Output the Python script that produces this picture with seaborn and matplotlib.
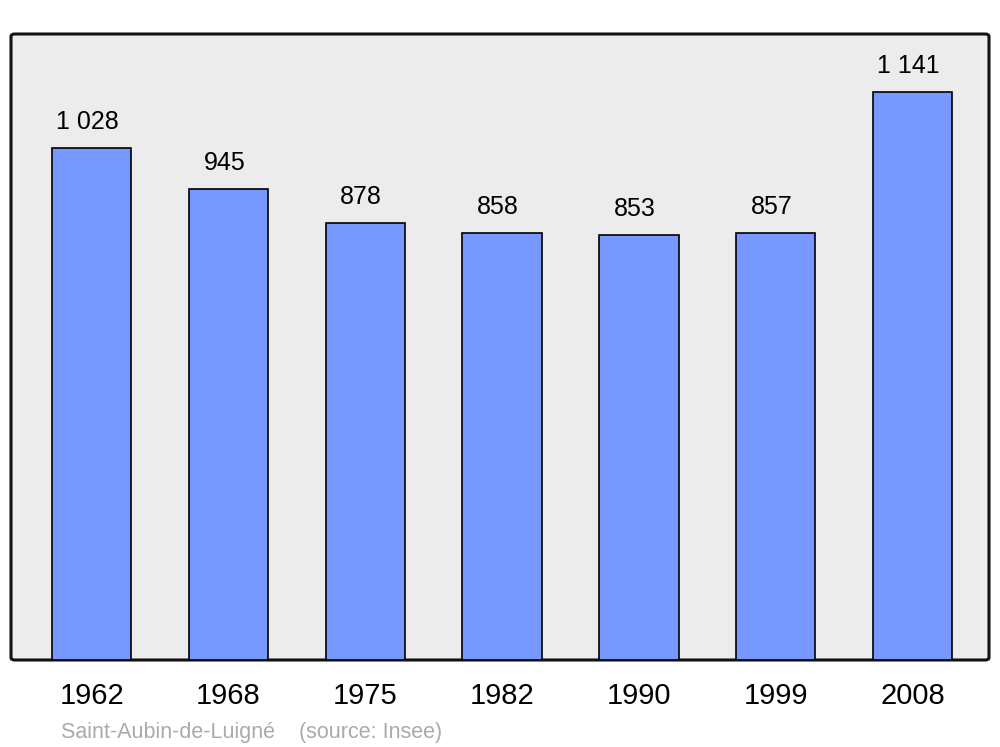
import matplotlib
matplotlib.use("Agg")
import matplotlib.pyplot as plt
import seaborn as sns
import pandas as pd
from matplotlib.patches import FancyBboxPatch

years = ["1962", "1968", "1975", "1982", "1990", "1999", "2008"]
population = [1028, 945, 878, 858, 853, 857, 1141]
value_labels = ["1 028", "945", "878", "858", "853", "857", "1 141"]
footer = "Saint-Aubin-de-Luigné    (source: Insee)"

sns.set_theme(style="white")
plt.rcParams["font.family"] = ["Liberation Sans", "DejaVu Sans"]

df = pd.DataFrame({"year": years, "pop": population})

fig = plt.figure(figsize=(10, 7.47), dpi=100)
ax = fig.add_axes([0.011, 1 - 660 / 747, 0.978, 626 / 747])
ax.set_facecolor("none")

bg = FancyBboxPatch((0, 0), 1, 1, boxstyle="round,pad=0,rounding_size=0.004",
                    transform=ax.transAxes, facecolor="#ececec", edgecolor="#111111",
                    linewidth=2.2, zorder=0, clip_on=False)
ax.add_patch(bg)

sns.barplot(data=df, x="year", y="pop", order=years, color="#7799ff", saturation=1,
            width=0.58, edgecolor="black", linewidth=1.2, ax=ax, zorder=2)

ax.set_xlim(-0.59, 6.56)
ax.set_ylim(0, 1257)
for s in ax.spines.values():
    s.set_visible(False)
ax.set_yticks([])
ax.set_xlabel("")
ax.set_ylabel("")
ax.tick_params(axis="x", length=0, labelsize=21, pad=16, colors="black")
for t in ax.get_xticklabels():
    t.set_x(t.get_position()[0])

for i, (v, lab) in enumerate(zip(population, value_labels)):
    ax.annotate(lab, (i, v), xytext=(-3, 10), textcoords="offset points",
                ha="center", va="bottom", fontsize=18, color="black")

fig.text(0.061, 1 - 738 / 747, footer, fontsize=15.5, color="#aaaaaa", ha="left", va="baseline")

fig.savefig("out.png", dpi=100, facecolor="white")
